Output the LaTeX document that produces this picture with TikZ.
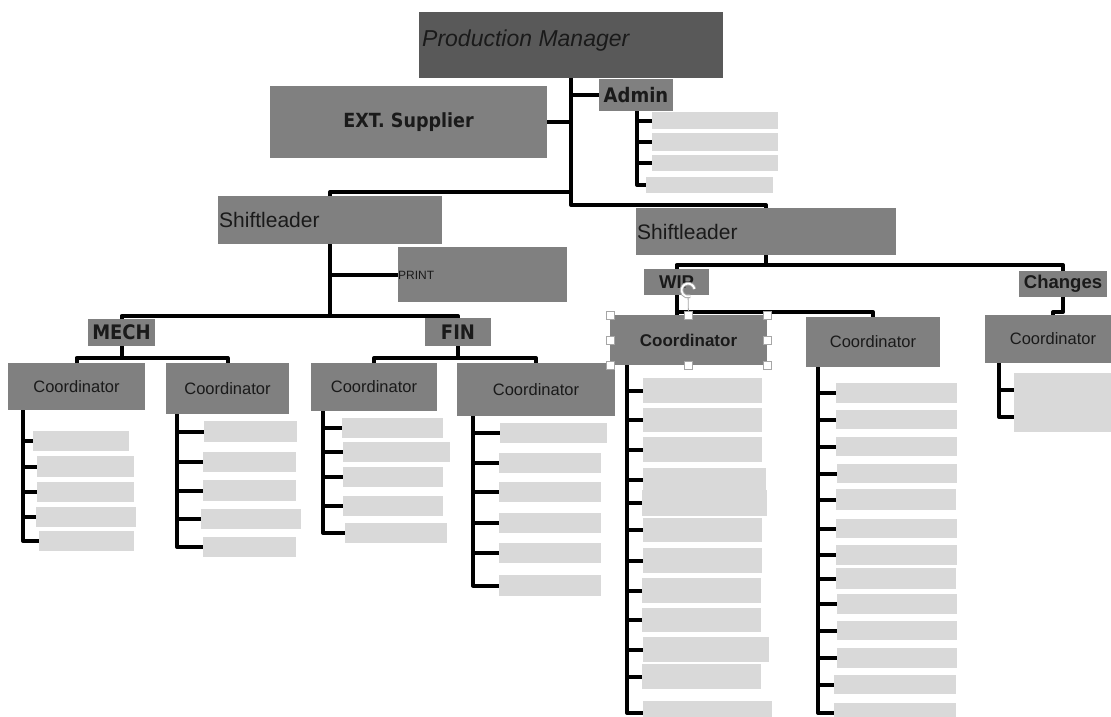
\documentclass[tikz,border=0pt]{standalone}
\usepackage{fontspec}
\setmainfont{Liberation Sans}
\newfontfamily\dvc[FakeStretch=0.9]{DejaVu Sans}
\usetikzlibrary{calc}
\definecolor{dk}{HTML}{595959}
\definecolor{md}{HTML}{808080}
\definecolor{lt}{HTML}{D9D9D9}
\definecolor{tx}{HTML}{1A1A1A}
\definecolor{hd}{HTML}{A6A6A6}
\newcommand{\mybox}[6]{%
  \pgfmathsetmacro\bxw{#5-#3}%
  \pgfmathsetmacro\bxh{#6-#4}%
  \pgfmathsetmacro\bxx{(#3+#5)/2}%
  \pgfmathsetmacro\bxy{(#4+#6)/2}%
  \node[#1, minimum width=\bxw pt, minimum height=\bxh pt] (#2) at (\bxx,\bxy)}
\newcommand{\mylist}[3]{%
  \coordinate (#1s) at ([xshift=#2pt]#1.south west);
  \draw[ln] (#1s) |- (#1b#3.west);
  \pgfmathtruncatemacro\lastm{#3-1}%
  \foreach \k in {1,...,\lastm} {\draw[ln] (#1s |- #1b\k.west) -- (#1b\k.west);}
}
\tikzset{
  box/.style={inner sep=0pt, outer sep=0pt, text=tx},
  dkb/.style={box, fill=dk},
  mdb/.style={box, fill=md},
  ltb/.style={box, fill=lt},
  crd/.style={mdb, font=\fontsize{16.5}{18}\selectfont},
  hdrb/.style={mdb, font=\dvc\bfseries\fontsize{20}{22}\selectfont},
  hdra/.style={mdb, font=\bfseries\fontsize{18.5}{20}\selectfont},
  ln/.style={line width=4pt, line join=round, black},
  hdl/.style={draw=hd, fill=white, line width=1pt, minimum size=8pt, inner sep=0pt}
}
\begin{document}
\begin{tikzpicture}[x=1pt,y=-1pt]
\useasboundingbox (0,0) rectangle (1111,717);
\clip (0,0) rectangle (1111,717);
\fill[white] (0,0) rectangle (1111,717);

% main boxes
\mybox{dkb}{pm}{419}{12}{723}{78}{};
\node[anchor=base west, inner sep=0pt, text=tx, font=\itshape\fontsize{23}{27}\selectfont] (pmt) at (422,47) {Production Manager};
\mybox{mdb, font=\dvc\bfseries\fontsize{19.5}{21}\selectfont}{ext}{270}{86}{547}{158}{EXT. Supplier};
\mybox{hdrb}{adm}{599}{79}{673}{111}{Admin};
\mybox{mdb}{lsl}{218}{196}{442}{244}{};
\node[anchor=base west, inner sep=0pt, text=tx, font=\fontsize{21}{25}\selectfont] (lslt) at (219,227) {Shiftleader};
\mybox{mdb}{rsl}{636}{208}{896}{255}{};
\node[anchor=base west, inner sep=0pt, text=tx, font=\fontsize{21}{25}\selectfont] (rslt) at (637,239) {Shiftleader};
\mybox{mdb}{prn}{398}{247}{567}{302}{};
\node[anchor=west, inner sep=0pt, text=tx, font=\fontsize{12}{14}\selectfont] (prnt) at (398,275) {PRINT};
\mybox{hdrb}{mech}{88}{319}{155}{346}{MECH};
\mybox{hdrb}{fin}{425}{318}{491}{346}{FIN};
\mybox{hdra}{wip}{644}{269}{709}{295}{WIP};
\mybox{hdra}{chg}{1019}{271}{1107}{297}{Changes};

% coordinators
\mybox{crd}{c1}{8}{363}{145}{410}{Coordinator};
\mybox{crd}{c2}{166}{363}{289}{414}{Coordinator};
\mybox{crd}{c3}{311}{363}{437}{411}{Coordinator};
\mybox{crd}{c4}{457}{363}{615}{416}{Coordinator};
\mybox{crd, font=\bfseries\fontsize{17}{19}\selectfont}{c5}{610}{315}{767}{365}{Coordinator};
\mybox{crd}{c6}{806}{317}{940}{367}{Coordinator};
\mybox{crd}{c7}{985}{315}{1121}{363}{Coordinator};

% light list boxes
\foreach \i/\xa/\ya/\xb/\yb in {1/652/112/778/129,2/652/133/778/151,3/652/155/778/171,4/646/177/773/193}
  {\mybox{ltb}{admb\i}{\xa}{\ya}{\xb}{\yb}{};}
\foreach \i/\xa/\ya/\xb/\yb in {1/33/431/129/451,2/37/456/134/477,3/37/482/134/502,4/36/507/136/527,5/39/531/134/551}
  {\mybox{ltb}{c1b\i}{\xa}{\ya}{\xb}{\yb}{};}
\foreach \i/\xa/\ya/\xb/\yb in {1/204/421/297/442,2/203/452/296/472,3/203/480/296/501,4/201/509/301/529,5/203/537/296/557}
  {\mybox{ltb}{c2b\i}{\xa}{\ya}{\xb}{\yb}{};}
\foreach \i/\xa/\ya/\xb/\yb in {1/342/418/443/438,2/343/442/450/462,3/343/467/443/487,4/343/496/443/516,5/345/523/447/543}
  {\mybox{ltb}{c3b\i}{\xa}{\ya}{\xb}{\yb}{};}
\foreach \i/\xa/\ya/\xb/\yb in {1/500/423/607/443,2/499/453/601/473,3/499/482/601/502,4/499/513/601/533,5/499/543/601/563,6/499/575/601/596}
  {\mybox{ltb}{c4b\i}{\xa}{\ya}{\xb}{\yb}{};}
\foreach \i/\xa/\ya/\xb/\yb in {1/643/378/762/403,2/643/408/762/432,3/643/437/762/462,4/643/468/766/492,5/642/490/767/516,6/643/518/762/542,7/643/548/762/573,8/642/578/761/603,9/642/608/761/632,10/643/637/769/662,11/642/664/761/689,12/643/701/772/725}
  {\mybox{ltb}{c5b\i}{\xa}{\ya}{\xb}{\yb}{};}
\foreach \i/\xa/\ya/\xb/\yb in {1/836/383/957/403,2/836/410/957/429,3/836/437/957/456,4/837/464/957/483,5/836/489/956/510,6/836/519/957/538,7/836/545/957/565,8/836/568/956/589,9/837/594/957/614,10/837/621/957/640,11/837/648/957/668,12/834/675/956/694,13/834/703/956/723}
  {\mybox{ltb}{c6b\i}{\xa}{\ya}{\xb}{\yb}{};}
\mybox{ltb}{c7b1}{1014}{373}{1121}{432}{};

% connectors
\coordinate (j1) at (571,192);
\coordinate (jl) at (330,316);
\coordinate (jm) at (121.5,358);
\coordinate (jf) at (458,358);
\coordinate (jr) at (766,265);
\coordinate (jw) at (676.5,312);
\draw[ln] (pm.south) |- ([yshift=3pt]rsl.north) -- (rsl.north);
\draw[ln] (lsl.north) |- (j1);
\draw[ln] (ext.east) -- (ext.east -| pm.south);
\draw[ln] (adm.west) -- (adm.west -| pm.south);
\draw[ln] (lsl.south) -- (jl);
\draw[ln] (lsl.south |- prn.west) -- (prn.west);
\draw[ln] (mech.north) |- (jl) -| (fin.north);
\draw[ln] (mech.south) -- (jm);
\draw[ln] (c1.north) |- (jm) -| (c2.north);
\draw[ln] (fin.south) -- (jf);
\draw[ln] (c3.north) |- (jf) -| (c4.north);
\draw[ln] (rsl.south) -- (jr);
\draw[ln] (wip.north) |- (jr) -| (chg.north);
\draw[ln] (wip.south) -- (wip.south |- c5.north);
\draw[ln] (jw) -| (c6.north);
\draw[ln] (chg.south) |- ([yshift=3pt]c7.north) -- (c7.north);

% lists
\mylist{adm}{38}{4}
\mylist{c1}{15}{5}
\mylist{c2}{11}{5}
\mylist{c3}{12}{5}
\mylist{c4}{16}{6}
\mylist{c5}{17}{12}
\mylist{c6}{12}{13}
\coordinate (c7s) at ([xshift=14pt]c7.south west);
\coordinate (c7t) at ([yshift=12.5pt]c7b1.west);
\coordinate (c7u) at ([yshift=-14.5pt]c7b1.west);
\draw[ln] (c7s |- c7t) -- (c7t);
\draw[ln] (c7s) |- (c7u);

% selection handles
\coordinate (rot) at (688,288);
\draw[hd, line width=0.8pt] ([yshift=-6pt]rot) -- (c5.north);
\foreach \a/\n in {north west/1,north/2,north east/3,west/4,east/5,south west/6,south/7,south east/8}
  {\node[hdl] (h\n) at (c5.\a) {};}
\draw[hd, line width=3.6pt] ([shift={(6.5,1)}]rot) arc[start angle=-10, end angle=-290, radius=6.5];
\draw[white, line width=1.8pt] ([shift={(6.5,1)}]rot) arc[start angle=-10, end angle=-290, radius=6.5];
\end{tikzpicture}
\end{document}
